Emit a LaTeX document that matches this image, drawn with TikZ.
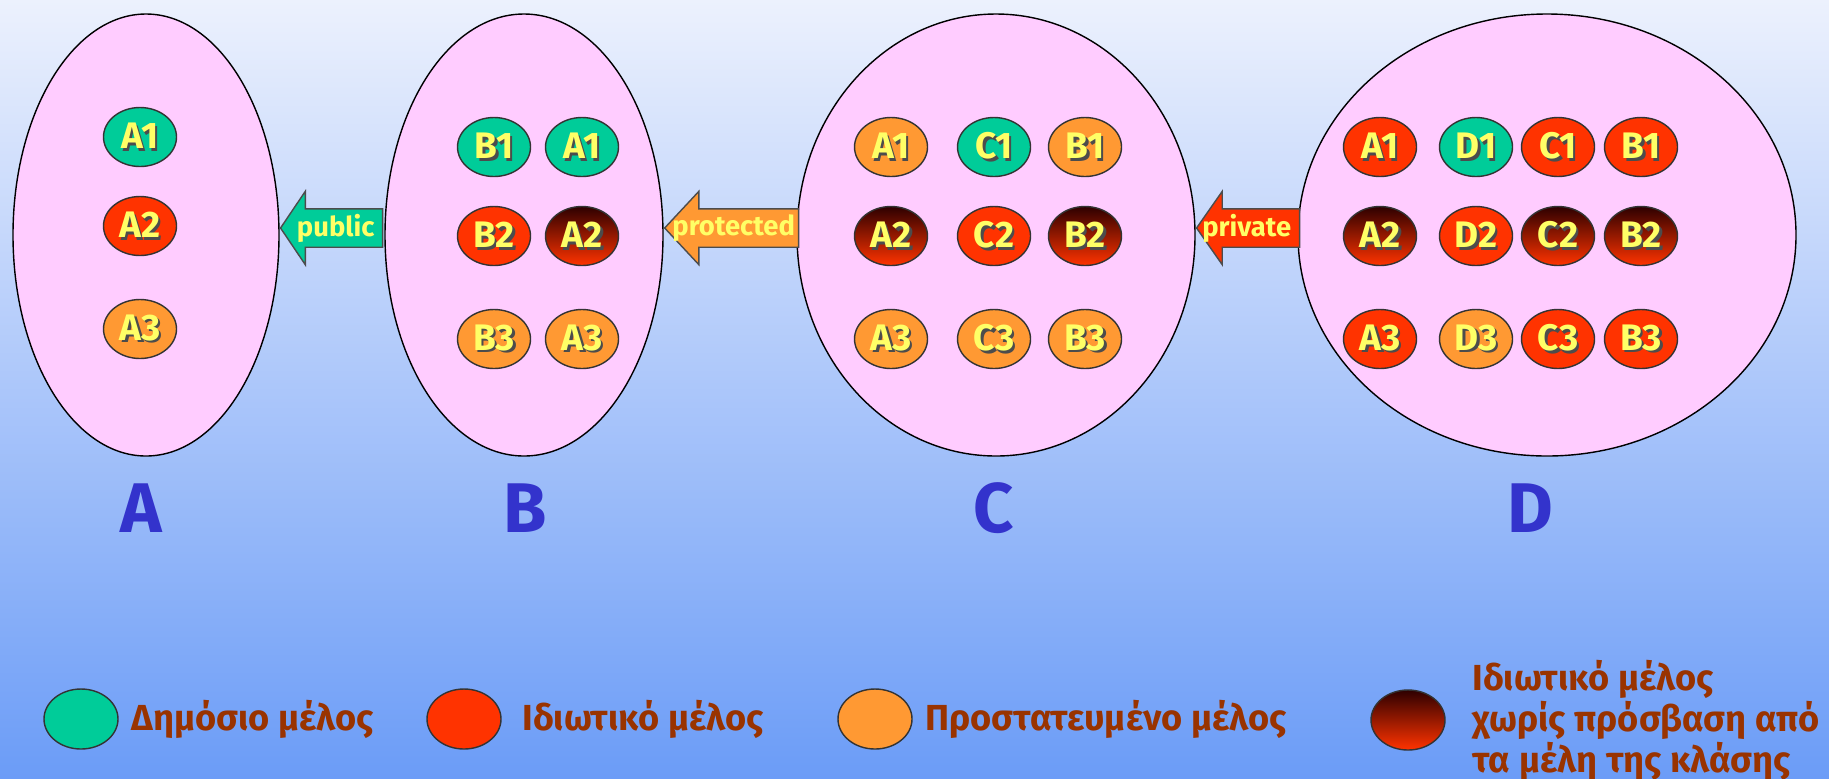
\documentclass[tikz,border=0pt]{standalone}
\usepackage{fontspec}
\setmainfont{Fira Sans}
\usepackage{tikz}
\usetikzlibrary{positioning,shapes.geometric,shapes.arrows}

\definecolor{pubgreen}{HTML}{00CC99}
\definecolor{privred}{HTML}{FF3300}
\definecolor{protorange}{HTML}{FF9933}
\definecolor{darkred}{HTML}{2E0000}
\definecolor{classpink}{HTML}{FFCCFF}
\definecolor{labelblue}{HTML}{3333CC}
\definecolor{legendbrown}{HTML}{993300}
\definecolor{memberyellow}{HTML}{FFFF66}
\definecolor{bgtop}{HTML}{ECF1FD}
\definecolor{bgbottom}{HTML}{6B9CF7}

% yellow member names with a dark drop shadow
\newcommand{\shadowtext}[1]{\rlap{\kern0.25mm\raisebox{-0.25mm}{\color{black!70}#1}}#1}

\begin{document}
\begin{tikzpicture}[
    x=0.1mm, y=-0.1mm,
    klass/.style={
        ellipse, % shape
        draw=black, thin,
        fill=classpink,
        inner sep=0pt},
    member/.style={
        ellipse,
        minimum width=7.3mm, minimum height=5.9mm,
        inner sep=0pt,
        draw=black!80,
        text=memberyellow,
        font=\fontsize{10.5}{11}\selectfont\bfseries},
    pub/.style={member, fill=pubgreen},
    priv/.style={member, fill=privred},
    prot/.style={member, fill=protorange},
    noaccess/.style={member, top color=darkred, bottom color=privred},
    inherit/.style={
        single arrow, shape border rotate=180, anchor=tip,
        single arrow head extend=1.75mm,
        inner sep=0pt, text height=2.55mm, text depth=1.15mm,
        draw=black!70, thin},
    arrowlabel/.style={
        inner sep=0pt,
        text=memberyellow,
        font=\fontsize{7.8}{8}\selectfont\bfseries},
    classname/.style={text=labelblue, font=\fontsize{20}{20}\selectfont\bfseries},
    legend/.style={ellipse, draw=black!80, minimum width=7.4mm, minimum height=6mm},
    legendtext/.style={
        inner sep=0pt, align=left,
        text=legendbrown,
        font=\fontsize{10.3}{11.7}\selectfont\bfseries}
  ]
  % background
  \fill[top color=bgtop, bottom color=bgbottom] (0,0) rectangle (1829,778);
  \useasboundingbox (0,0) rectangle (1829,778);

  % the four classes
  \node (A) [klass, minimum width=26.6mm, minimum height=44.2mm] at (146,235) {};
  \node (B) [klass, minimum width=27.8mm, minimum height=44.2mm] at (524,235) {};
  \node (C) [klass, minimum width=39.8mm, minimum height=44.2mm] at (996,235) {};
  \node (D) [klass, minimum width=49.8mm, minimum height=44.2mm] at (1547,235) {};

  % inheritance arrows
  \node (pubarrow) [inherit, fill=pubgreen, minimum height=10.2mm, single arrow tip angle=112]
    at ([yshift=0.7mm]A.east) {};
  \node (protarrow) [inherit, fill=protorange, minimum height=13.4mm, single arrow tip angle=94]
    at ([yshift=0.7mm]B.east) {};
  \node (privarrow) [inherit, fill=privred, minimum height=10.3mm, single arrow tip angle=110]
    at ([yshift=0.7mm]C.east) {};
  \node (publabel) [arrowlabel] at ([xshift=5.6mm, yshift=0.7mm]A.east) {public};
  \node (protlabel) [arrowlabel] at ([xshift=7mm, yshift=0.7mm]B.east) {protected};
  \node (privlabel) [arrowlabel] at ([xshift=5.1mm, yshift=0.7mm]C.east) {private};

  % members of A
  \node (A-A1) [pub] at (140,137) {\shadowtext{A1}};
  \node (A-A2) [priv] at (140,226) {\shadowtext{A2}};
  \node (A-A3) [prot] at (140,329) {\shadowtext{A3}};

  % members of B
  \node (B-B1) [pub] at (494,147) {\shadowtext{B1}};
  \node (B-A1) [pub] at (582,147) {\shadowtext{A1}};
  \node (B-B2) [priv] at (494,236) {\shadowtext{B2}};
  \node (B-A2) [noaccess] at (582,236) {\shadowtext{A2}};
  \node (B-B3) [prot] at (494,339) {\shadowtext{B3}};
  \node (B-A3) [prot] at (582,339) {\shadowtext{A3}};

  % members of C
  \node (C-A1) [prot] at (891,147) {\shadowtext{A1}};
  \node (C-C1) [pub] at (994,147) {\shadowtext{C1}};
  \node (C-B1) [prot] at (1085,147) {\shadowtext{B1}};
  \node (C-A2) [noaccess] at (891,236) {\shadowtext{A2}};
  \node (C-C2) [priv] at (994,236) {\shadowtext{C2}};
  \node (C-B2) [noaccess] at (1085,236) {\shadowtext{B2}};
  \node (C-A3) [prot] at (891,339) {\shadowtext{A3}};
  \node (C-C3) [prot] at (994,339) {\shadowtext{C3}};
  \node (C-B3) [prot] at (1085,339) {\shadowtext{B3}};

  % members of D
  \node (D-A1) [priv] at (1380,147) {\shadowtext{A1}};
  \node (D-D1) [pub] at (1476,147) {\shadowtext{D1}};
  \node (D-C1) [priv] at (1558,147) {\shadowtext{C1}};
  \node (D-B1) [priv] at (1641,147) {\shadowtext{B1}};
  \node (D-A2) [noaccess] at (1380,236) {\shadowtext{A2}};
  \node (D-D2) [priv] at (1476,236) {\shadowtext{D2}};
  \node (D-C2) [noaccess] at (1558,236) {\shadowtext{C2}};
  \node (D-B2) [noaccess] at (1641,236) {\shadowtext{B2}};
  \node (D-A3) [priv] at (1380,339) {\shadowtext{A3}};
  \node (D-D3) [prot] at (1476,339) {\shadowtext{D3}};
  \node (D-C3) [priv] at (1558,339) {\shadowtext{C3}};
  \node (D-B3) [priv] at (1641,339) {\shadowtext{B3}};

  % class names
  \node (nameA) [classname] at (141,508) {A};
  \node (nameB) [classname] at (525,508) {B};
  \node (nameC) [classname] at (994,508) {C};
  \node (nameD) [classname] at (1530,508) {D};

  % legend
  \node (leg-pub) [legend, fill=pubgreen] at (81,719) {};
  \node (txt-pub) [legendtext, right=1.2mm of leg-pub] {Δημόσιο μέλος};
  \node (leg-priv) [legend, fill=privred] at (464,719) {};
  \node (txt-priv) [legendtext, right=2mm of leg-priv] {Ιδιωτικό μέλος};
  \node (leg-prot) [legend, fill=protorange] at (875,719) {};
  \node (txt-prot) [legendtext, right=1.2mm of leg-prot] {Προστατευμένο μέλος};
  \node (leg-none) [legend, top color=darkred, bottom color=privred] at (1408,720) {};
  \node (txt-none) [legendtext, right=2.6mm of leg-none]
    {Ιδιωτικό μέλος\\χωρίς πρόσβαση από\\τα μέλη της κλάσης};
\end{tikzpicture}
\end{document}
